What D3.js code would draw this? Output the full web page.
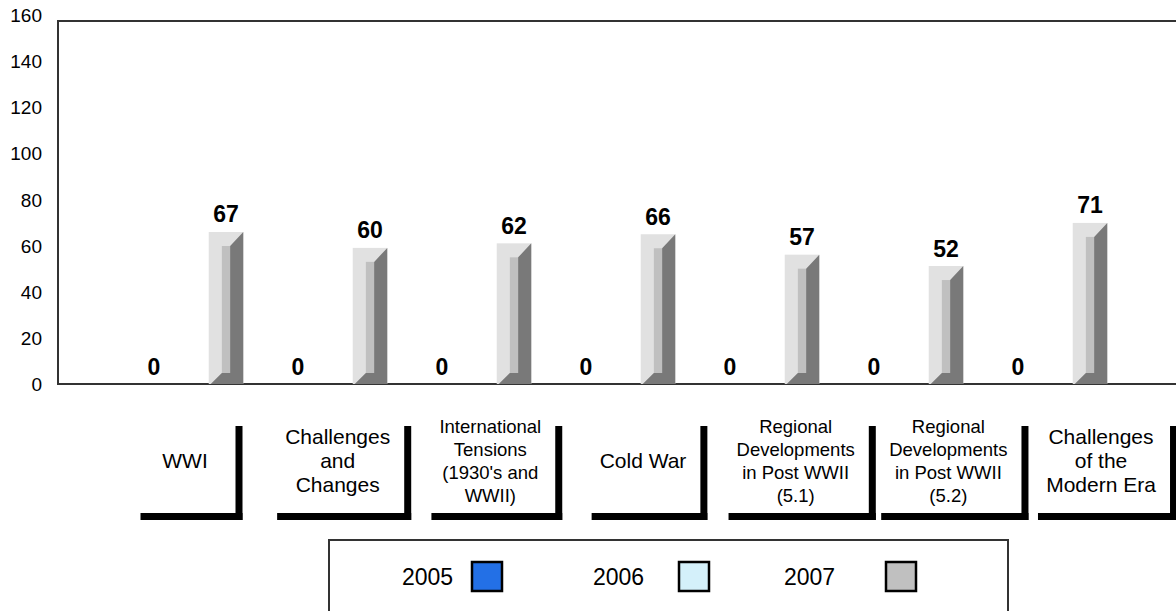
<!DOCTYPE html>
<html>
<head>
<meta charset="utf-8">
<script src="https://cdn.jsdelivr.net/npm/d3@7"></script>
<style>
body { margin: 0; background: #fff; }
svg text { font-family: "Liberation Sans", Arial, sans-serif; }
</style>
</head>
<body>
<script>
const width = 1176;
const height = 611;

// chart data
const categories = [
    "WWI",
    "Challenges and Changes",
    "International Tensions (1930's and WWII)",
    "Cold War",
    "Regional Developments in Post WWII (5.1)",
    "Regional Developments in Post WWII (5.2)",
    "Challenges of the Modern Era"
];
const categoryLines = [
    ["WWI"],
    ["Challenges", "and", "Changes"],
    ["International", "Tensions", "(1930's and", "WWII)"],
    ["Cold War"],
    ["Regional", "Developments", "in Post WWII", "(5.1)"],
    ["Regional", "Developments", "in Post WWII", "(5.2)"],
    ["Challenges", "of the", "Modern Era"]
];
const seriesNames = ["2005", "2006", "2007"];
const values2005 = [0, 0, 0, 0, 0, 0, 0];
const values2006 = [null, null, null, null, null, null, null];
const values2007 = [67, 60, 62, 66, 57, 52, 71];
const yTicks = [0, 20, 40, 60, 80, 100, 120, 140, 160];
const seriesColors = ["#2370e6", "#d4f0fa", "#c0c0c0"];

const seriesValues = [values2005, values2006, values2007];

const svg = d3.select("body")
    .append("svg")
    .attr("width", width)
    .attr("height", height);

const plotLeft = 58;

const y = d3.scaleLinear()
    .domain([0, 160])
    .range([384, 21]);

// tick labels sit a little outside the plot at the ends
const yLabel = d3.scaleLinear()
    .domain([0, 160])
    .range([385, 16]);

const x0 = d3.scaleBand()
    .domain(categories)
    .range([118, 1126])
    .paddingInner(0.26)
    .paddingOuter(0.13);

const x1 = d3.scaleBand()
    .domain(seriesNames)
    .range([0, x0.bandwidth()])
    .paddingInner(0.04);

// plot frame
svg.append("rect")
    .attr("x", plotLeft)
    .attr("y", y(160))
    .attr("width", width - plotLeft + 10)
    .attr("height", y(0) - y(160))
    .attr("fill", "none")
    .attr("stroke", "#333")
    .attr("stroke-width", 2);

// y axis labels
const yAxis = d3.axisLeft(y).tickValues(yTicks).tickSize(0).tickPadding(16);
const yG = svg.append("g")
    .attr("transform", `translate(${plotLeft},0)`)
    .call(yAxis);
yG.select(".domain").remove();
yG.selectAll(".tick")
    .attr("transform", d => `translate(0,${yLabel(d)})`);
yG.selectAll(".tick text")
    .attr("fill", "#000")
    .style("font-size", "19px")
    .style("font-family", "Liberation Sans, Arial, sans-serif");

// bars, drawn with a bevelled 3d look
function bevelBar(g, bx, bw, yt, yb, color) {
    if (yb - yt <= 0) return;
    const s = bw * 0.38, e = bw * 0.62;
    g.append("rect")
        .attr("x", bx).attr("y", yt)
        .attr("width", bw).attr("height", yb - yt)
        .attr("fill", d3.color(color).brighter(0.45));
    g.append("rect")
        .attr("x", bx + s).attr("y", yt + 14)
        .attr("width", e - s).attr("height", Math.max(0, yb - yt - 25))
        .attr("fill", color);
    g.append("path")
        .attr("d", d3.line()([
            [bx + e, yt + 14], [bx + bw, yt], [bx + bw, yb],
            [bx + 2, yb], [bx + s, yb - 11], [bx + e, yb - 11]
        ]))
        .attr("fill", d3.color(color).darker(1.3));
}

const groups = svg.append("g").selectAll("g")
    .data(categories)
    .join("g")
    .attr("transform", d => `translate(${x0(d)},0)`);

groups.each(function (cat, i) {
    const g = d3.select(this);
    seriesNames.forEach((s, k) => {
        const v = seriesValues[k][i];
        if (v === null) return;
        bevelBar(g, x1(s), x1.bandwidth(), y(v), y(0), seriesColors[k]);
        g.append("text")
            .attr("x", x1(s) + x1.bandwidth() / 2)
            .attr("y", y(v) - 9.5)
            .attr("text-anchor", "middle")
            .style("font-size", "23px")
            .style("font-weight", "bold")
            .text(v);
    });
});

// category label boxes with a heavy shadow edge
const xLabel = d3.scalePoint()
    .domain(categories)
    .range([185, 1101]);

const labelMid = 461;
const boxTop = 426, boxBottom = 513, shadow = 7;

categories.forEach((cat, i) => {
    const lines = categoryLines[i];
    const fs = lines.length >= 4 ? 18.5 : 21;
    const lh = lines.length >= 4 ? 23 : 24;
    const cx = xLabel(cat);
    const g = svg.append("g");
    const t = g.append("text")
        .attr("text-anchor", "middle")
        .style("font-size", fs + "px");
    lines.forEach((ln, j) => {
        t.append("tspan")
            .attr("x", cx)
            .attr("y", labelMid + (j - (lines.length - 1) / 2) * lh)
            .attr("dy", "0.35em")
            .text(ln);
    });
    const tw = t.node().getBBox().width;
    const bw = Math.max(95, tw + 22);
    const left = cx - bw / 2 + 3, right = cx + bw / 2 + 3;
    g.append("rect")
        .attr("x", left).attr("y", boxBottom)
        .attr("width", right - left + shadow).attr("height", shadow)
        .attr("fill", "#000");
    g.append("rect")
        .attr("x", right).attr("y", boxTop)
        .attr("width", shadow).attr("height", boxBottom + shadow - boxTop)
        .attr("fill", "#000");
});

// legend
const legend = svg.append("g");
legend.append("rect")
    .attr("x", 329).attr("y", 540)
    .attr("width", 679).attr("height", 120)
    .attr("fill", "#fff")
    .attr("stroke", "#333")
    .attr("stroke-width", 2);

const legendText = d3.scalePoint().domain(seriesNames).range([402, 784]);
const legendSwatch = d3.scalePoint().domain(seriesNames).range([472, 886]);

seriesNames.forEach((s, k) => {
    legend.append("text")
        .attr("x", legendText(s))
        .attr("y", 577)
        .attr("dy", "0.35em")
        .style("font-size", "23px")
        .text(s);
    legend.append("rect")
        .attr("x", legendSwatch(s))
        .attr("y", 562)
        .attr("width", 30)
        .attr("height", 29)
        .attr("fill", seriesColors[k])
        .attr("stroke", "#000")
        .attr("stroke-width", 2.5);
});
</script>
</body>
</html>
